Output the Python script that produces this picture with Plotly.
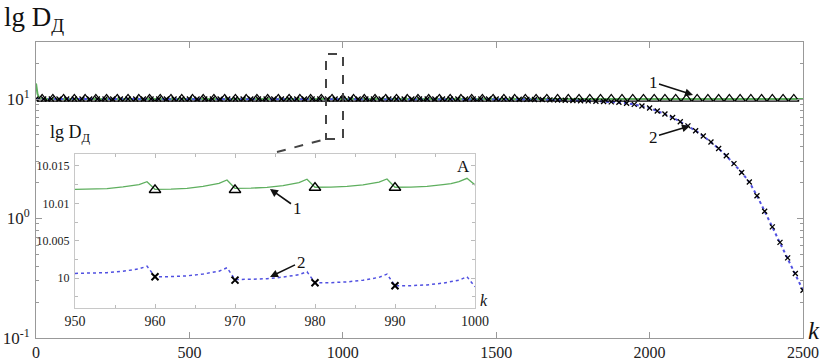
import plotly.graph_objects as go

# ---------------- data ----------------
# main plot, curve 1 (green line, open triangles)
curve1_k = [0, 5, 12, 2500]
curve1_vals = [13.5, 11.0, 10.012, 10.012]
tri_k = list(range(20, 2500, 35))
tri_vals = [10.012 for _ in tri_k]

# main plot, curve 2 (blue dotted line, x markers)
k_main = list(range(0, 2501, 25))
curve2_vals = [
    10.0, 10.0, 10.0, 10.0, 10.0, 10.0, 10.0, 10.0, 10.0, 10.0,
    10.0, 10.0, 10.0, 10.0, 10.0, 10.0, 10.0, 10.0, 10.0, 10.0,
    10.0, 10.0, 10.0, 10.0, 10.0, 10.0, 10.0, 10.0, 10.0, 10.0,
    10.0, 10.0, 10.0, 10.0, 10.0, 10.0, 10.0, 10.0, 10.0, 10.0,
    10.0, 10.0, 10.0, 10.0, 10.0, 10.0, 10.0, 10.0, 10.0, 10.0,
    10.0, 10.0, 10.0, 10.0, 10.0, 10.0, 10.0, 10.0, 10.0, 10.0,
    10.0,
    9.98, 9.98, 9.95, 9.93, 9.91, 9.89, 9.84, 9.82, 9.77, 9.73,
    9.68, 9.64, 9.59, 9.53, 9.46, 9.38, 9.23, 9.02, 8.75, 8.41,
    7.94, 7.50, 7.00, 6.46, 5.96, 5.43, 4.90, 4.37, 3.85, 3.35,
    2.88, 2.43, 2.02, 1.55, 1.15, 0.851, 0.631, 0.468, 0.347, 0.251,
]

main_xticks = [0, 500, 1000, 1500, 2000, 2500]
main_yticks = [0.1, 1, 10]
main_yticktext = ["10<sup>-1</sup>", "10<sup>0</sup>", "10<sup>1</sup>"]
main_yminor = [0.2, 0.3, 0.4, 0.5, 0.6, 0.7, 0.8, 0.9,
               2, 3, 4, 5, 6, 7, 8, 9, 20]

# inset A
inset_k = [950, 952, 954, 956, 957, 958, 959,
           960, 962, 964, 966, 967, 968, 969,
           970, 972, 974, 976, 977, 978, 979,
           980, 982, 984, 986, 987, 988, 989,
           990, 992, 994, 996, 997, 998, 999,
           1000]
inset_green = [10.01188, 10.01190, 10.01198, 10.01219, 10.01231, 10.01251, 10.01290,
               10.01188, 10.01191, 10.01200, 10.01226, 10.01241, 10.01266, 10.01313,
               10.01201, 10.01203, 10.01213, 10.01237, 10.01252, 10.01276, 10.01322,
               10.01215, 10.01217, 10.01226, 10.01248, 10.01262, 10.01284, 10.01326,
               10.01215, 10.01217, 10.01227, 10.01251, 10.01265, 10.01290, 10.01335,
               10.01246]
inset_blue = [10.00063, 10.00065, 10.00073, 10.00092, 10.00104, 10.00123, 10.00160,
              10.00018, 10.00020, 10.00030, 10.00054, 10.00068, 10.00092, 10.00138,
              9.99982, 9.99984, 9.99992, 10.00013, 10.00025, 10.00046, 10.00085,
              9.99937, 9.99939, 9.99949, 9.99972, 9.99986, 10.00010, 10.00054,
              9.99897, 9.99899, 9.99909, 9.99933, 9.99948, 9.99972, 10.00018,
              9.99884]
inset_mark_k = [960, 970, 980, 990]
inset_tri_vals = [10.0118, 10.0118, 10.0121, 10.0121]
inset_x_vals = [10.00018, 9.99973, 9.99937, 9.99897]
inset_xticks = [950, 960, 970, 980, 990, 1000]
inset_yticks = [10.0, 10.005, 10.01, 10.015]
inset_yticktext = ["10", "10.005", "10.01", "10.015"]

# ---------------- figure ----------------
FONT = "Liberation Serif"
GREEN = "rgb(95,175,95)"
BLUE = "rgb(80,80,225)"
W, H = 824, 364
L, R, T, B = 36, 21, 42, 26
PW, PH = W - L - R, H - T - B


def px(x):
    return (x - L) / PW


def py(y):
    return (H - B - y) / PH


fig = go.Figure()

# main curves
fig.add_trace(go.Scatter(x=curve1_k, y=curve1_vals, mode="lines",
                         line=dict(color=GREEN, width=2), hoverinfo="skip"))
fig.add_trace(go.Scatter(x=k_main, y=curve2_vals, mode="lines+markers",
                         line=dict(color=BLUE, width=2, dash="dot"),
                         marker=dict(symbol="x-thin-open", size=5, color="black",
                                     line=dict(color="black", width=1.3)),
                         hoverinfo="skip"))
fig.add_trace(go.Scatter(x=tri_k, y=tri_vals, mode="markers",
                         marker=dict(symbol="triangle-up-open", size=9, color="black",
                                     line=dict(color="black", width=1.3)),
                         hoverinfo="skip"))

# inset curves
fig.add_trace(go.Scatter(x=inset_k, y=inset_green, mode="lines", xaxis="x2", yaxis="y2",
                         line=dict(color=GREEN, width=1.3), hoverinfo="skip"))
fig.add_trace(go.Scatter(x=inset_k, y=inset_blue, mode="lines", xaxis="x2", yaxis="y2",
                         line=dict(color=BLUE, width=1.5, dash="dot"), hoverinfo="skip"))
fig.add_trace(go.Scatter(x=inset_mark_k, y=inset_tri_vals, mode="markers", xaxis="x2", yaxis="y2",
                         marker=dict(symbol="triangle-up-open", size=10, color="black",
                                     line=dict(color="black", width=1.5)),
                         hoverinfo="skip"))
fig.add_trace(go.Scatter(x=inset_mark_k, y=inset_x_vals, mode="markers", xaxis="x2", yaxis="y2",
                         marker=dict(symbol="x-thin-open", size=7, color="black",
                                     line=dict(color="black", width=2)),
                         hoverinfo="skip"))

axis_font = dict(family=FONT, size=16, color="#222")
inset_font = dict(family=FONT, size=14, color="#222")

fig.update_layout(
    width=W, height=H, autosize=False,
    margin=dict(l=L, r=R, t=T, b=B, pad=0, autoexpand=False),
    paper_bgcolor="white", plot_bgcolor="white",
    showlegend=False,
    font=dict(family=FONT, color="#111"),
    xaxis=dict(range=[0, 2500], tickvals=main_xticks, ticks="inside", ticklen=6,
               tickcolor="#999", showline=True, linecolor="#999", linewidth=1,
               mirror="ticks", showgrid=False, zeroline=False, tickfont=axis_font,
               automargin=False, domain=[0, 1], anchor="y"),
    yaxis=dict(type="log", range=[-1, 1.4771], tickvals=main_yticks, ticktext=main_yticktext,
               ticks="inside", ticklen=6, tickcolor="#999", showline=True, linecolor="#999",
               linewidth=1, mirror="ticks", showgrid=False, zeroline=False,
               tickfont=dict(family=FONT, size=17, color="#222"), ticklabelstandoff=2,
               minor=dict(ticks="inside", ticklen=3, tickcolor="#999", tickvals=main_yminor,
                          showgrid=False),
               automargin=False, domain=[0, 1], anchor="x"),
    xaxis2=dict(range=[950, 1000], tickvals=inset_xticks, ticks="inside", ticklen=4,
                tickcolor="#bbb", showline=True, linecolor="#c8c8c8", linewidth=1,
                mirror="ticks", showgrid=False, zeroline=False, tickfont=inset_font,
                minor=dict(ticks="inside", ticklen=3, tickcolor="#bbb", dtick=5, tick0=950),
                automargin=False, domain=[px(75), px(475)], anchor="y2"),
    yaxis2=dict(range=[9.996, 10.0166], tickvals=inset_yticks, ticktext=inset_yticktext,
                ticks="inside", ticklen=4, tickcolor="#bbb", showline=True,
                linecolor="#c8c8c8", linewidth=1, mirror="ticks", showgrid=False,
                zeroline=False, tickfont=dict(family=FONT, size=12, color="#222"),
                ticklabelstandoff=2,
                minor=dict(ticks="inside", ticklen=3, tickcolor="#bbb",
                           tickvals=[9.9975, 10.0025, 10.0075, 10.0125]),
                automargin=False, domain=[py(308), py(154)], anchor="x2"),
)

# zoom marker (dashed box and connector)
fig.add_shape(type="rect", xref="paper", yref="paper",
              x0=px(326), x1=px(343), y0=py(139), y1=py(54),
              line=dict(color="#444", width=2, dash="dash"), layer="above")
fig.add_shape(type="line", xref="paper", yref="paper",
              x0=px(277), y0=py(152), x1=px(326), y1=py(139),
              line=dict(color="#444", width=2, dash="dash"), layer="above")

ann_font = dict(family=FONT, size=17, color="#111")
annotations = [
    dict(text="lg D<sub>Д</sub>", x=px(2), y=py(0), xanchor="left", yanchor="top",
         font=dict(family=FONT, size=27, color="#111")),
    dict(text="lg D<sub>Д</sub>", x=px(48), y=py(120), xanchor="left", yanchor="top",
         font=dict(family=FONT, size=18, color="#111")),
    dict(text="A", x=px(463), y=py(166), font=dict(family=FONT, size=17, color="#111")),
    dict(text="<i>k</i>", x=px(814), y=py(330), font=dict(family=FONT, size=25, color="#111")),
    dict(text="<i>k</i>", x=px(484), y=py(300), font=dict(family=FONT, size=16, color="#111")),
]
for a in annotations:
    a.update(xref="paper", yref="paper", showarrow=False)
    if "xanchor" not in a:
        a.update(xanchor="center", yanchor="middle")

arrows = [
    ("1", 693, 95, -40, -13),
    ("2", 690, 126, -37, 11),
    ("1", 270, 189, 27, 19),
    ("2", 270, 277, 31, -15),
]
for txt, hx, hy, ax, ay in arrows:
    annotations.append(dict(text=txt, x=px(hx), y=py(hy), xref="paper", yref="paper",
                            showarrow=True, ax=ax, ay=ay, arrowhead=2, arrowsize=1,
                            arrowwidth=1.6, arrowcolor="#111", font=ann_font))
fig.update_layout(annotations=annotations)

fig.write_html("out.html", config={"displayModeBar": False},
               post_script="document.body.style.margin='0';document.body.style.overflow='hidden';")
